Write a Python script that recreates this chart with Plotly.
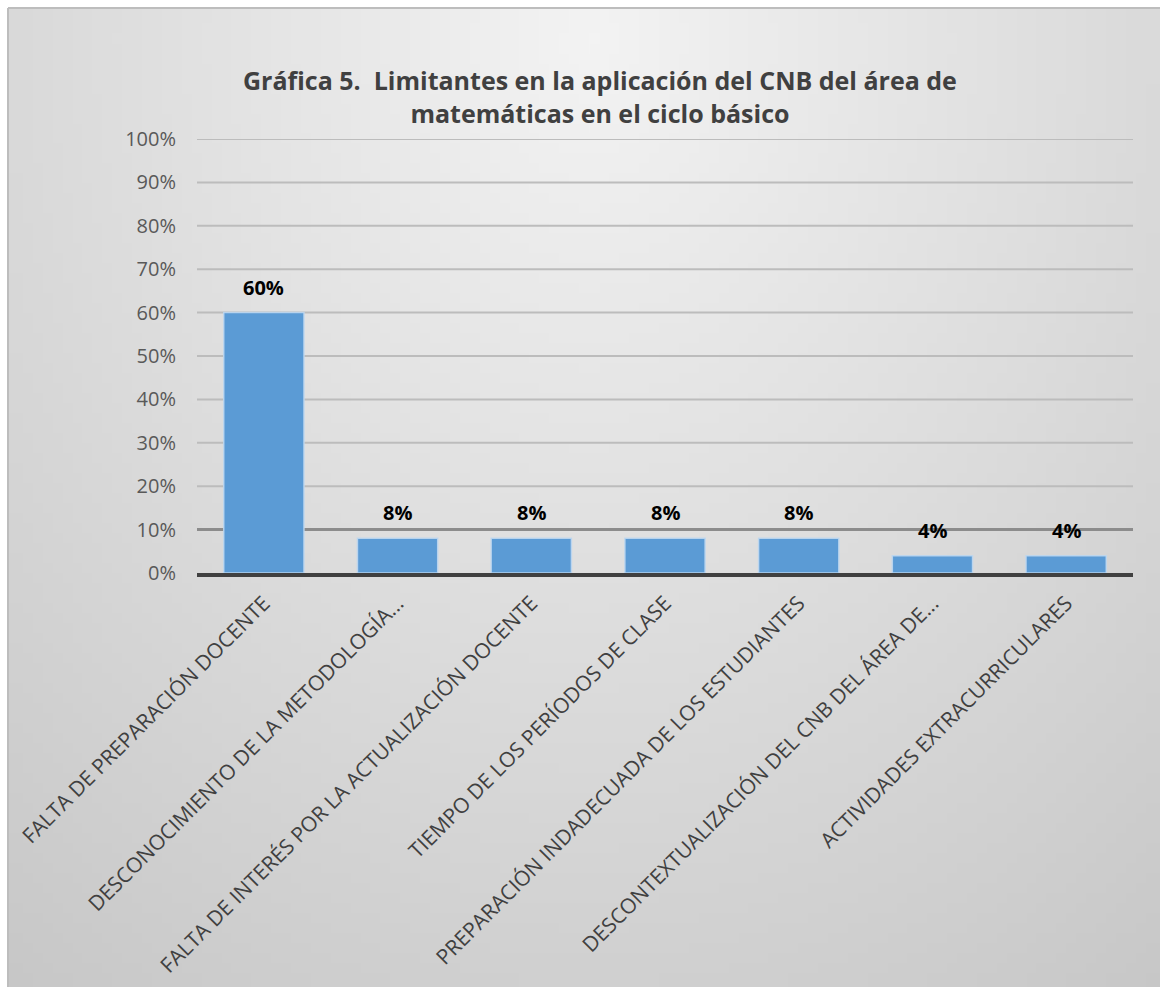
import base64, struct, zlib
import plotly.graph_objects as go

# ---------------- data ----------------
categories = [
    "FALTA DE PREPARACIÓN DOCENTE",
    "DESCONOCIMIENTO DE LA METODOLOGÍA...",
    "FALTA DE INTERÉS POR LA ACTUALIZACIÓN DOCENTE",
    "TIEMPO DE LOS PERÍODOS DE CLASE",
    "PREPARACIÓN INDADECUADA DE LOS ESTUDIANTES",
    "DESCONTEXTUALIZACIÓN DEL CNB DEL ÁREA DE...",
    "ACTIVIDADES EXTRACURRICULARES",
]
values = [60, 8, 8, 8, 8, 4, 4]
value_labels = [f"{v}%" for v in values]
y_ticks = list(range(0, 101, 10))
y_tick_labels = [f"{t}%" for t in y_ticks]
title_text = "Gráfica 5.\u00a0 Limitantes en la aplicación del CNB del área de<br>matemáticas en el ciclo básico"

# ---------------- background gradient image (style only) ----------------
W, H = 1160, 987
def make_png(w, h, fn):
    raw = b""
    for j in range(h):
        row = bytes(max(0, min(255, int(round(fn(i, j))))) for i in range(w))
        raw += b"\x00" + row
    def chunk(tag, data):
        c = struct.pack(">I", len(data)) + tag + data
        return c + struct.pack(">I", zlib.crc32(tag + data) & 0xffffffff)
    png = b"\x89PNG\r\n\x1a\n"
    png += chunk(b"IHDR", struct.pack(">IIBBBBB", w, h, 8, 0, 0, 0, 0))
    png += chunk(b"IDAT", zlib.compress(raw, 9))
    png += chunk(b"IEND", b"")
    return "data:image/png;base64," + base64.b64encode(png).decode()

gw, gh = 116, 98
def shade(i, j):
    x = 8 + (i + 0.5) / gw * (W - 8)
    y = 8 + (j + 0.5) / gh * (H - 8)
    r = (((x - 590) / 600) ** 2 + ((y - 40) / 720) ** 2) ** 0.5
    return 243 - 27 * r
bg_src = make_png(gw, gh, shade)

# ---------------- figure ----------------
x0p, x1p = 197 / W, 1133 / W
y0p, y1p = 1 - 573 / H, 1 - 139 / H

fig = go.Figure()
fig.add_trace(go.Bar(
    x=categories, y=values,
    marker=dict(color="#5B9BD5", line=dict(color="rgba(190,215,240,0.9)", width=1.5)),
    width=0.6,
    hoverinfo="skip",
))

for c, v, t in zip(categories, values, value_labels):
    fig.add_annotation(x=c, y=v, text=f"<b>{t}</b>", showarrow=False,
                       xref="x", yref="y", xanchor="center", yanchor="bottom", yshift=10,
                       font=dict(family="Open Sans", size=20, color="#000000"))

fig.add_annotation(x=600 / W, y=1 - 96 / H, xref="paper", yref="paper",
                   text=f"<b>{title_text}</b>", showarrow=False,
                   xanchor="center", yanchor="middle",
                   font=dict(family="Open Sans", size=25, color="#404040"))

fig.add_layout_image(dict(source=bg_src, xref="paper", yref="paper",
                          x=8 / W, y=1 - 8 / H, sizex=1 - 8 / W, sizey=1 - 8 / H,
                          xanchor="left", yanchor="top", sizing="stretch",
                          layer="below", opacity=1))

# frame border (top and left)
fig.add_shape(type="line", xref="paper", yref="paper", x0=8 / W, x1=1, y0=1 - 8 / H, y1=1 - 8 / H,
              line=dict(color="#bdbdbd", width=2))
fig.add_shape(type="line", xref="paper", yref="paper", x0=8 / W, x1=8 / W, y0=0, y1=1 - 8 / H,
              line=dict(color="#bdbdbd", width=2))

# gridlines (the 10% one is darker in the reference)
for t in y_ticks[1:]:
    fig.add_shape(type="line", xref="paper", yref="y", x0=x0p, x1=x1p, y0=t, y1=t,
                  layer="below",
                  line=dict(color="#8c8c8c" if t == 10 else "#bcbcbc", width=3 if t == 10 else 2))

fig.update_layout(
    width=W, height=H,
    margin=dict(l=0, r=0, t=0, b=0, autoexpand=False),
    paper_bgcolor="white",
    plot_bgcolor="rgba(0,0,0,0)",
    showlegend=False,
    xaxis=dict(domain=[x0p, x1p], tickangle=-45, showgrid=False, automargin=False,
               showline=True, linecolor="#404040", linewidth=3.5,
               ticks="", ticklabelstandoff=6,
               tickfont=dict(family="Open Sans", size=21, color="#404040"),
               fixedrange=True),
    yaxis=dict(domain=[y0p, y1p], range=[0, 100], tickmode="array", automargin=False,
               tickvals=y_ticks, ticktext=y_tick_labels,
               showgrid=False, zeroline=False, showline=False, ticks="",
               ticklabelstandoff=20,
               tickfont=dict(family="Open Sans", size=20, color="#595959"),
               fixedrange=True),
)

fig.write_html("out.html")
